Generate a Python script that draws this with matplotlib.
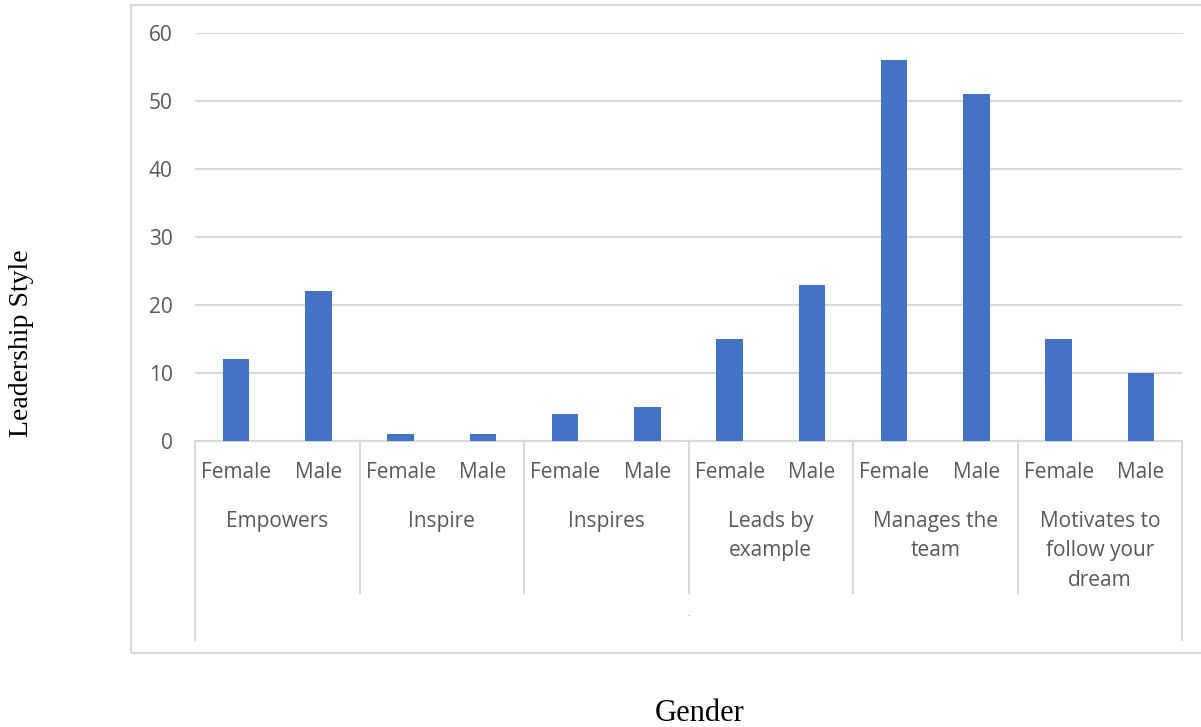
import numpy as np
import matplotlib.pyplot as plt
from matplotlib.patches import Rectangle
from matplotlib import transforms

# leadership style counts by gender
styles = ['Empowers', 'Inspire', 'Inspires', 'Leads by\nexample',
          'Manages the\nteam', 'Motivates to\nfollow your\ndream']
genders = ['Female', 'Male']
female = [12, 1, 4, 15, 56, 15]
male = [22, 1, 5, 23, 51, 10]

values = []
for f, m in zip(female, male):
    values += [f, m]
labels = genders * len(styles)

W, H = 1201, 727
fig = plt.figure(figsize=(W / 100, H / 100), dpi=100)

# plot area in pixel terms
x0, x1 = 195, 1182
y0, y1 = 441, 33
ax = fig.add_axes([x0 / W, (H - y0) / H, (x1 - x0) / W, (y0 - y1) / H])

grid_col = '#d9d9d9'
text_col = '#595959'
font = 'Open Sans'
fs = 15

x = np.arange(len(values))
ax.bar(x, values, width=0.32, color='#4472C4', zorder=3)

ax.set_xlim(-0.5, len(values) - 0.5)
ax.set_ylim(0, 60)
ax.set_yticks(range(0, 61, 10))
ax.yaxis.grid(True, color=grid_col, linewidth=1.5, zorder=0)
for s in ['top', 'right', 'left']:
    ax.spines[s].set_visible(False)
ax.spines['bottom'].set_color(grid_col)
ax.spines['bottom'].set_linewidth(1.5)
ax.tick_params(axis='y', length=0, pad=16, labelsize=fs, labelcolor=text_col)
ax.tick_params(axis='x', length=0, pad=0)
ax.set_xticks([])
for lab in ax.get_yticklabels():
    lab.set_fontfamily(font)

# x: data coords, y: pixels below the axis line (converted to axes fraction)
trans = transforms.blended_transform_factory(ax.transData, ax.transAxes)
def ypix(p):
    return -(p - y0) / (y0 - y1)

for xi, lab in zip(x, labels):
    ax.text(xi, ypix(473), lab, transform=trans, ha='center', va='center',
            fontsize=fs, color=text_col, family=font)

for i, st in enumerate(styles):
    ax.text(2 * i + 0.5, ypix(511), st, transform=trans, ha='center', va='top',
            fontsize=fs, color=text_col, family=font, linespacing=1.52)

# group dividers of the category axis
for i in range(len(styles) + 1):
    xd = 2 * i - 0.5
    bottom = 640 if i in (0, len(styles)) else 593
    ax.plot([xd, xd], [0, ypix(bottom)], transform=trans, color=grid_col,
            linewidth=1.5, clip_on=False)
ax.text(len(values) / 2 - 0.5, ypix(614), '.', transform=trans, ha='center',
        va='center', fontsize=6, color=text_col)

# chart area border
fig.patches.append(Rectangle((131 / W, (H - 653) / H), (W + 10) / W, (653 - 5) / H,
                             transform=fig.transFigure, fill=False,
                             edgecolor=grid_col, linewidth=1.5))

fig.text(22 / W, 1 - 343 / H, 'Leadership Style', rotation=90, ha='center',
         va='center', fontsize=20, family='Liberation Serif', color='black')
fig.text(700 / W, 1 - 721 / H, 'Gender', ha='center', va='baseline',
         fontsize=22, family='Liberation Serif', color='black')

fig.savefig('out.png', dpi=100)
